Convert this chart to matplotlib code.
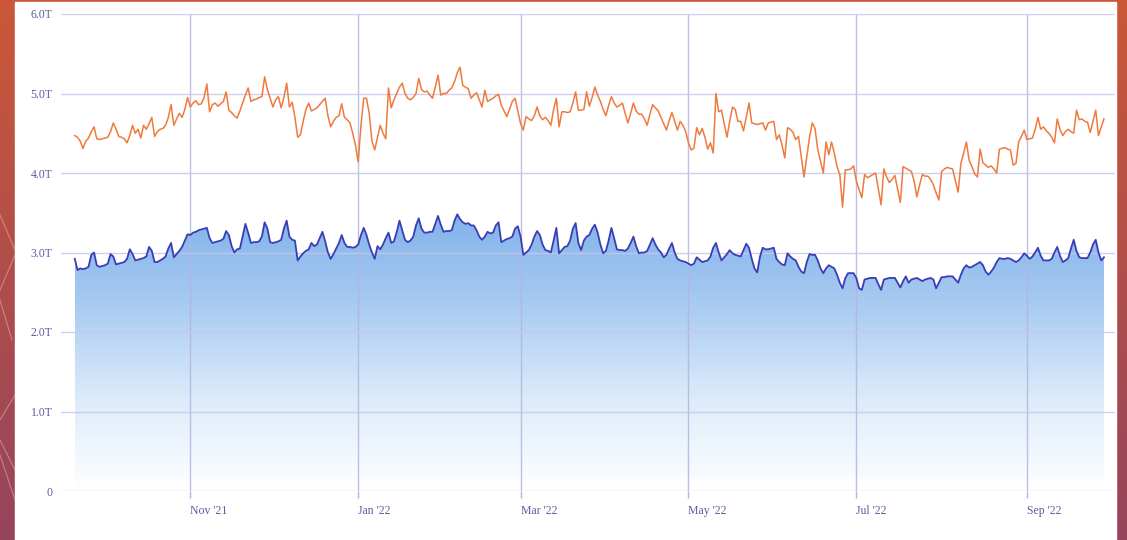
import numpy as np
import pandas as pd
import matplotlib
matplotlib.use("Agg")
import matplotlib.pyplot as plt
import matplotlib.dates as mdates
from matplotlib.colors import LinearSegmentedColormap
from matplotlib.patches import Rectangle

# daily values, trillions, starting 2021-09-20
start_date = "2021-09-20"

blue_vals = [
    2.92, 2.78, 2.80, 2.79, 2.80, 2.82, 2.97, 3.00, 2.84, 2.82,
    2.83, 2.84, 2.86, 2.98, 2.95, 2.85, 2.86, 2.87, 2.88, 2.92,
    3.04, 2.98, 2.90, 2.91, 2.92, 2.93, 2.95, 3.07, 3.02, 2.88,
    2.88, 2.90, 2.92, 2.95, 3.05, 3.12, 2.94, 2.98, 3.02, 3.07,
    3.15, 3.23, 3.22, 3.25, 3.26, 3.28, 3.29, 3.30, 3.31, 3.18,
    3.12, 3.13, 3.14, 3.15, 3.17, 3.27, 3.22, 3.08, 3.00, 3.04,
    3.05, 3.20, 3.36, 3.25, 3.12, 3.13, 3.13, 3.14, 3.20, 3.38,
    3.30, 3.13, 3.12, 3.13, 3.14, 3.16, 3.30, 3.40, 3.20, 3.16,
    3.15, 2.90, 2.95, 2.99, 3.02, 3.04, 3.12, 3.08, 3.10, 3.18,
    3.26, 3.14, 3.00, 2.92, 2.98, 3.05, 3.12, 3.22, 3.12, 3.07,
    3.07, 3.06, 3.07, 3.10, 3.22, 3.31, 3.22, 3.10, 3.00, 2.92,
    3.08, 3.04, 3.10, 3.18, 3.25, 3.12, 3.14, 3.26, 3.40, 3.28,
    3.16, 3.13, 3.15, 3.20, 3.34, 3.43, 3.30, 3.25, 3.25, 3.26,
    3.26, 3.36, 3.46, 3.35, 3.26, 3.27, 3.27, 3.28, 3.40, 3.48,
    3.42, 3.38, 3.36, 3.37, 3.34, 3.34, 3.28, 3.20, 3.16, 3.20,
    3.26, 3.24, 3.25, 3.34, 3.38, 3.13, 3.15, 3.17, 3.18, 3.20,
    3.30, 3.33, 3.20, 2.97, 3.00, 3.03, 3.10, 3.20, 3.27, 3.22,
    3.10, 3.03, 3.02, 3.00, 3.15, 3.31, 2.99, 3.03, 3.07, 3.08,
    3.15, 3.30, 3.37, 3.12, 3.03, 3.15, 3.20, 3.22, 3.30, 3.35,
    3.25, 3.10, 2.99, 3.02, 3.15, 3.31, 3.18, 3.04, 3.03, 3.03,
    3.02, 3.05, 3.12, 3.20, 3.08, 2.99, 3.00, 3.00, 3.02, 3.10,
    3.18, 3.10, 3.04, 3.00, 2.94, 2.97, 3.05, 3.12, 3.00, 2.92,
    2.90, 2.89, 2.88, 2.86, 2.84, 2.86, 2.94, 2.91, 2.88, 2.89,
    2.90, 2.95, 3.06, 3.12, 3.00, 2.90, 2.94, 2.98, 3.03, 2.99,
    2.97, 2.96, 2.95, 3.03, 3.11, 3.06, 2.92, 2.80, 2.75, 2.95,
    3.06, 3.04, 3.04, 3.05, 3.06, 2.92, 2.88, 2.85, 2.84, 2.99,
    2.95, 2.92, 2.90, 2.82, 2.76, 2.74, 2.88, 2.98, 2.97, 2.97,
    2.90, 2.80, 2.74, 2.80, 2.84, 2.82, 2.80, 2.72, 2.62, 2.55,
    2.68, 2.74, 2.74, 2.74, 2.68, 2.55, 2.53, 2.66, 2.67, 2.68,
    2.68, 2.68, 2.60, 2.53, 2.66, 2.67, 2.68, 2.68, 2.68, 2.62,
    2.56, 2.64, 2.70, 2.62, 2.66, 2.67, 2.68, 2.66, 2.64, 2.66,
    2.67, 2.68, 2.66, 2.55, 2.62, 2.69, 2.69, 2.70, 2.70, 2.70,
    2.66, 2.62, 2.72, 2.80, 2.84, 2.81, 2.82, 2.84, 2.86, 2.88,
    2.84, 2.76, 2.72, 2.76, 2.81, 2.88, 2.93, 2.92, 2.92, 2.93,
    2.92, 2.90, 2.88, 2.90, 2.94, 2.99, 2.96, 2.92, 2.95, 3.00,
    3.06, 2.96, 2.90, 2.90, 2.90, 2.92, 3.00, 3.07, 2.96, 2.88,
    2.90, 2.93, 3.05, 3.16, 3.02, 2.94, 2.93, 2.93, 2.93, 3.00,
    3.10, 3.16, 3.00, 2.90, 2.94,
]

orange_vals = [
    4.47, 4.45, 4.40, 4.31, 4.40, 4.44, 4.52, 4.58, 4.43, 4.42,
    4.43, 4.44, 4.45, 4.52, 4.63, 4.55, 4.46, 4.45, 4.43, 4.38,
    4.47, 4.60, 4.50, 4.55, 4.44, 4.60, 4.55, 4.62, 4.70, 4.46,
    4.52, 4.55, 4.56, 4.60, 4.70, 4.86, 4.60, 4.68, 4.75, 4.70,
    4.80, 4.95, 4.83, 4.88, 4.91, 4.86, 4.87, 4.95, 5.12, 4.77,
    4.86, 4.88, 4.84, 4.87, 4.90, 5.02, 4.79, 4.76, 4.72, 4.69,
    4.78, 4.88, 4.98, 5.07, 4.90, 4.92, 4.93, 4.95, 4.96, 5.21,
    5.05, 4.94, 4.83, 4.92, 4.96, 4.82, 4.95, 5.13, 4.83, 4.89,
    4.70, 4.45, 4.48, 4.65, 4.80, 4.88, 4.78, 4.80, 4.82, 4.86,
    4.90, 4.94, 4.72, 4.58, 4.65, 4.70, 4.72, 4.87, 4.70, 4.67,
    4.63, 4.50, 4.35, 4.14, 4.60, 4.94, 4.94, 4.75, 4.40, 4.29,
    4.45, 4.60, 4.50, 4.43, 5.07, 4.82, 4.92, 5.00, 5.08, 5.13,
    5.00, 4.94, 4.92, 4.95, 5.00, 5.19, 5.05, 5.02, 5.03, 4.98,
    4.94, 5.08, 5.23, 4.98, 5.00, 5.00, 5.04, 5.07, 5.15, 5.26,
    5.33, 5.10, 5.08, 5.06, 4.94, 4.98, 5.01, 4.92, 4.83, 5.04,
    4.90, 4.92, 4.94, 4.97, 4.99, 4.85, 4.78, 4.71, 4.80, 4.90,
    4.94, 4.78, 4.62, 4.54, 4.71, 4.68, 4.66, 4.72, 4.83, 4.72,
    4.67, 4.70, 4.66, 4.60, 4.80, 4.94, 4.58, 4.77, 4.77, 4.76,
    4.77, 4.88, 5.02, 4.79, 4.79, 4.80, 5.02, 4.84, 4.95, 5.08,
    4.98, 4.90, 4.80, 4.72, 4.85, 4.96, 4.88, 4.83, 4.85, 4.88,
    4.75, 4.63, 4.75, 4.88, 4.78, 4.74, 4.74, 4.68, 4.60, 4.74,
    4.86, 4.82, 4.78, 4.70, 4.62, 4.54, 4.66, 4.76, 4.65, 4.54,
    4.65, 4.60, 4.52, 4.38, 4.29, 4.31, 4.57, 4.48, 4.56, 4.45,
    4.30, 4.38, 4.25, 5.00, 4.77, 4.79, 4.62, 4.45, 4.65, 4.83,
    4.80, 4.65, 4.65, 4.53, 4.70, 4.88, 4.63, 4.62, 4.61, 4.62,
    4.63, 4.54, 4.63, 4.64, 4.65, 4.42, 4.48, 4.35, 4.19, 4.57,
    4.55, 4.51, 4.42, 4.46, 4.20, 3.95, 4.20, 4.45, 4.63, 4.56,
    4.29, 4.15, 4.00, 4.39, 4.23, 4.39, 4.25, 4.08, 3.98, 3.57,
    4.04, 4.04, 4.05, 4.09, 3.90, 3.79, 3.69, 3.98, 3.94, 3.96,
    3.98, 4.00, 3.80, 3.60, 4.05, 3.95, 3.88, 3.92, 3.97, 3.80,
    3.63, 4.08, 4.06, 4.04, 4.02, 3.90, 3.70, 3.85, 3.98, 3.96,
    3.96, 3.92, 3.85, 3.75, 3.66, 4.02, 4.05, 4.07, 4.06, 4.05,
    3.90, 3.76, 4.12, 4.25, 4.39, 4.16, 4.08, 3.99, 3.95, 4.30,
    4.13, 4.10, 4.07, 4.09, 4.05, 4.00, 4.30, 4.31, 4.32, 4.30,
    4.29, 4.10, 4.12, 4.39, 4.46, 4.54, 4.42, 4.43, 4.44, 4.55,
    4.70, 4.55, 4.58, 4.53, 4.50, 4.45, 4.38, 4.68, 4.55, 4.47,
    4.52, 4.55, 4.52, 4.50, 4.79, 4.67, 4.68, 4.65, 4.64, 4.51,
    4.65, 4.79, 4.47, 4.58, 4.68,
]

y_ticks = [0, 1, 2, 3, 4, 5, 6]
y_labels = ["0", "1.0T", "2.0T", "3.0T", "4.0T", "5.0T", "6.0T"]
x_ticks = ["2021-11-01", "2022-01-01", "2022-03-01", "2022-05-01", "2022-07-01", "2022-09-01"]
x_labels = ["Nov '21", "Jan '22", "Mar '22", "May '22", "Jul '22", "Sep '22"]

dates = pd.date_range(start_date, periods=len(blue_vals), freq="D")
xn = mdates.date2num(dates)
blue = np.array(blue_vals)
orange = np.array(orange_vals)

W, H = 1127, 540
fig = plt.figure(figsize=(W / 100, H / 100), dpi=100)

# backdrop: orange to plum gradient with a few faint lines on the left
bg = fig.add_axes([0, 0, 1, 1])
bg.set_xlim(0, 1)
bg.set_ylim(0, 1)
bg.axis("off")
top_c = np.array([202, 88, 56]) / 255
bot_c = np.array([150, 68, 92]) / 255
tt = np.linspace(0, 1, 256)[:, None]
grad = (bot_c[None, :] * (1 - tt) + top_c[None, :] * tt)[:, None, :]
grad = np.repeat(grad, 2, axis=1)
bg.imshow(grad, extent=[0, 1, 0, 1], origin="lower", aspect="auto")
for (x0, y0, x1, y1) in [(0, 215, 15, 250), (0, 290, 15, 255), (0, 420, 15, 395),
                         (0, 440, 15, 470), (0, 455, 15, 500), (0, 300, 12, 340)]:
    bg.plot([x0 / W, x1 / W], [1 - y0 / H, 1 - y1 / H], color="#f0b8c8", lw=0.8, alpha=0.5)
bg.add_patch(Rectangle((15 / W, 0), (1116 - 15) / W, 538 / H, color="white", zorder=3))

ax = fig.add_axes([61 / W, 49 / H, (1115 - 61) / W, (491 - 14) / H])
ax.patch.set_alpha(0)

# gradient area under the blue line
poly = ax.fill_between(xn, blue, 0, color="none", lw=0)
cmap = LinearSegmentedColormap.from_list("fade", ["#ffffff", "#dcebfa", "#a9cbf1", "#80b2ea"])
gy = np.linspace(0, 1, 256)[:, None]
img = ax.imshow(np.repeat(gy, 2, axis=1), extent=[xn[0], xn[-1], 0, 3.5], origin="lower",
                aspect="auto", cmap=cmap, zorder=1)
img.set_clip_path(poly.get_paths()[0], transform=ax.transData)

ax.plot(xn, blue, color="#3a3db5", lw=1.3, zorder=4)
ax.plot(xn, orange, color="#f07a3e", lw=1.1, zorder=4)

ax.set_ylim(0, 6)
ax.set_xlim(mdates.date2num(pd.Timestamp("2021-09-15")), mdates.date2num(pd.Timestamp("2022-10-03")))
ax.set_yticks(y_ticks)
ax.set_yticklabels(y_labels)
ax.set_xticks(mdates.date2num(pd.to_datetime(x_ticks)))
ax.set_xticklabels(x_labels, ha="left")

# grid sits over the fill, under the lines
ax.set_axisbelow(False)
ax.grid(axis="y", color="#c8c8ea", lw=1, alpha=0.85, zorder=2)
ax.grid(axis="x", color="#b4b4de", lw=1, alpha=0.85, zorder=2)
for s in ax.spines.values():
    s.set_visible(False)

lab_color = "#5c5ca0"
ax.tick_params(axis="y", length=0, pad=6, labelsize=8.5, labelcolor=lab_color)
ax.tick_params(axis="x", length=5, width=1, color="#b4b4de", pad=5, labelsize=8.5, labelcolor=lab_color)
for t in ax.get_xticklabels() + ax.get_yticklabels():
    t.set_fontfamily("Liberation Serif")

fig.savefig("out.png", dpi=100)
